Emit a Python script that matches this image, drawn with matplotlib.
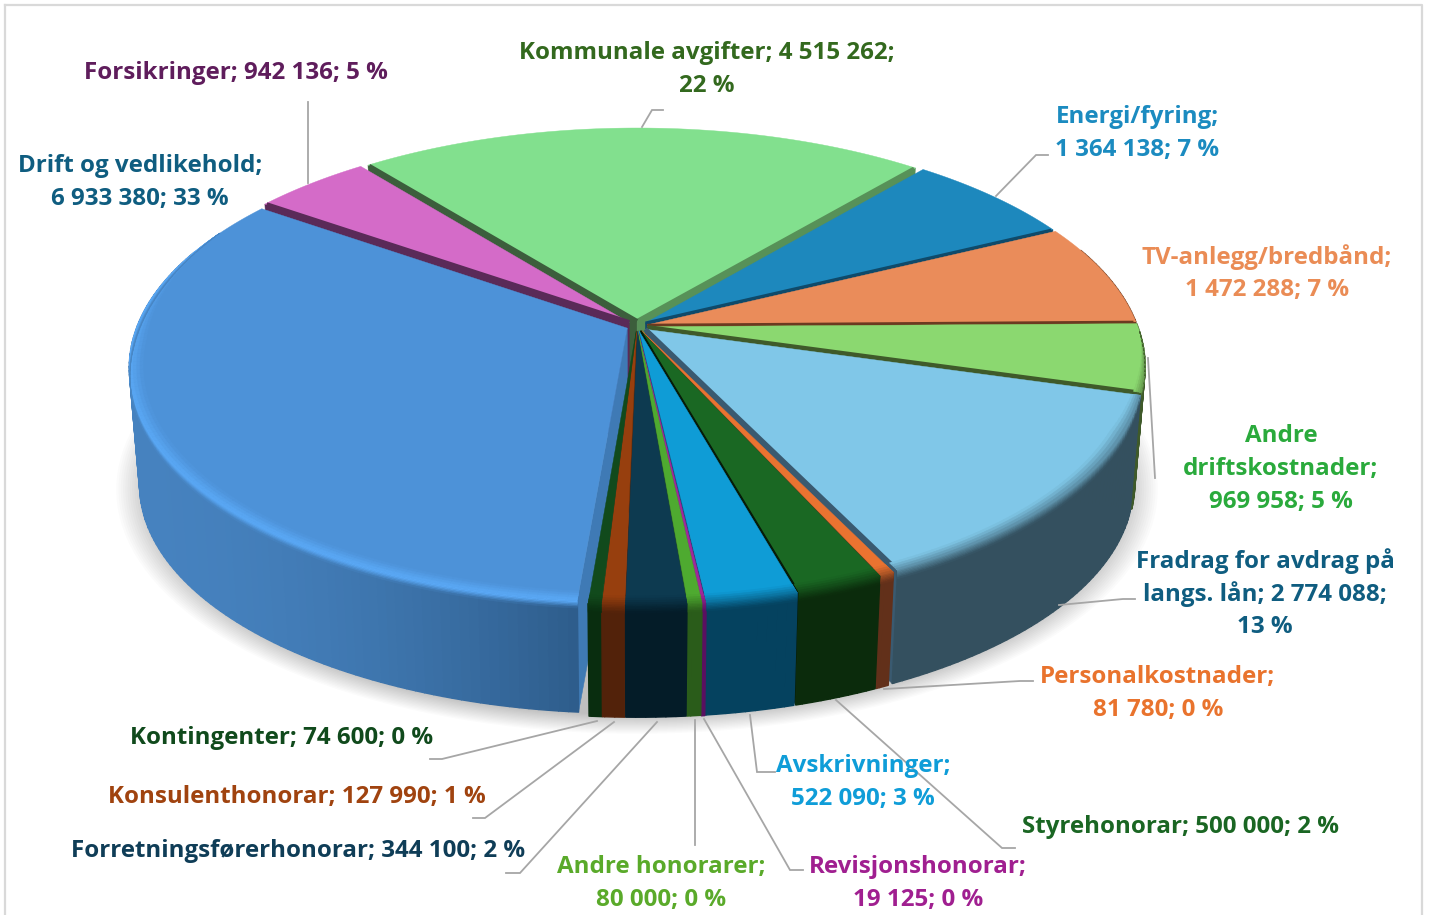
import numpy as np
import matplotlib
matplotlib.use("Agg")
import matplotlib.pyplot as plt
from matplotlib.collections import PolyCollection
from matplotlib.colors import to_rgb
from matplotlib.patches import Polygon

# ---------- data ----------
names = ["Kommunale avgifter", "Energi/fyring", "TV-anlegg/bredbånd", "Andre\ndriftskostnader",
         "Fradrag for avdrag på\nlangs. lån", "Personalkostnader", "Styrehonorar", "Avskrivninger",
         "Revisjonshonorar", "Andre honorarer", "Forretningsførerhonorar", "Konsulenthonorar",
         "Kontingenter", "Drift og vedlikehold", "Forsikringer"]
values = [4515262, 1364138, 1472288, 969958, 2774088, 81780, 500000, 522090,
          19125, 80000, 344100, 127990, 74600, 6933380, 942136]
top_colors = ["#82e08e", "#1d88bd", "#ea8c5a", "#8bd870", "#80c7e8", "#ea7330", "#1a6823", "#0f9cd6",
              "#a0289a", "#4eaa30", "#0d3a50", "#973f0e", "#114a1c", "#4d92d8", "#d46bc8"]
wall_colors = ["#3c5e3c", "#0f4a6a", "#6b3a20", "#3f5a2a", "#34505f", "#62301a", "#0b2b0c", "#05425f",
               "#5a1060", "#2a5c1a", "#041c28", "#52220a", "#092d0f", "#3f74aa", "#5a2a58"]
end_face_colors = ["#579158", "#0f4a6a", "#6b3a20", "#3f5a2a", "#3a5a70", "#62301a", "#061a08", "#05425f",
                   "#5a1060", "#2a5c1a", "#041c28", "#52220a", "#092d0f", "#3f74aa", "#5a2a58"]
start_face_colors = ["#3c5e3c", "#0f4a6a", "#6b3a20", "#3f5a2a", "#34505f", "#62301a", "#0b2b0c", "#05425f",
                     "#5a1060", "#2a5c1a", "#041c28", "#52220a", "#092d0f", "#3f7ab5", "#5a2a58"]
label_colors = ["#33691e", "#1b8bc0", "#ea8c55", "#2aaa3c", "#0f5d80", "#e9732d", "#1a6623", "#0f9dd8",
                "#a01f90", "#5aaa2a", "#0f3d57", "#a0430f", "#104a1c", "#0f5d80", "#5f1d5c"]
# drawn width of the dark band along the end / start edge of each slice
end_band = [3.0, 2.0, 1.6, 2.4, 3.5, 0, 1.0, 0, 0, 0, 0, 0, 0, 0, 0]
start_band = [3.0, 0, 0, 0, 0, 0, 0, 0, 0, 0, 0, 0, 0, 0, 3.6]
# how the label wraps: 0 one line, 1 break after name, 2 break before percent
label_wrap = [2, 1, 1, 1, 2, 1, 0, 1, 1, 1, 0, 0, 0, 1, 0]
label_x = [707, 1137, 1267, 1281, 1265, 1158, 1180, 863, 918, 661, 298, 297, 282, 140, 236]
label_y = [53, 117, 257, 436, 561, 677, 827, 766, 867, 867, 851, 797, 738, 166, 73]
leaders = [[(663, 110), (652, 110), (642, 127)],
           [(1048, 155), (1036, 155), (996, 196)],
           [(1155, 478), (1148, 358)],
           [(1135, 599), (1123, 599), (1059, 605)],
           [(1033, 681), (1020, 681), (884, 689)],
           [(1015, 848), (1002, 848), (836, 700)],
           [(775, 772), (757, 772), (750, 715)],
           [(803, 870), (790, 870), (704, 719)],
           [(695, 845), (695, 720)],
           [(506, 873), (520, 873), (657, 722)],
           [(473, 818), (485, 818), (614, 722)],
           [(430, 759), (442, 759), (597, 721)],
           [(308, 102), (308, 183)]]

# ---------- projection ----------
START = -38.5
K = 0.166
CX = 637
TOP = dict(R=490, B=226.6, cy=326)
BOT = dict(R=480, B=222, cy=444)
EXPL = 0.022


def proj(x, y, p):
    w = 1 + K * y
    return CX + p["R"] * x / w, p["cy"] - p["B"] * y / w


def mix(a, b, t):
    a, b = np.array(to_rgb(a)), np.array(to_rgb(b))
    return tuple(a + (b - a) * t)


fig = plt.figure(figsize=(14.31, 9.15), dpi=100)
ax = fig.add_axes([0, 0, 1, 1])
ax.set_xlim(0, 1431)
ax.set_ylim(915, 0)
ax.axis("off")

# frame
ax.plot([5, 5], [915, 5], color="#d9d9d9", lw=1.6, zorder=1)
ax.plot([5, 1422, 1422], [5, 5, 915], color="#d9d9d9", lw=1.6, zorder=1)

# shadow
circ = np.radians(np.arange(0, 361, 2))
for s in np.linspace(1.07, 1.0, 16):
    px, py = proj(np.sin(circ), np.cos(circ), dict(R=BOT["R"] * s, B=BOT["B"] * s, cy=BOT["cy"] + 5))
    ax.add_patch(Polygon(np.c_[px, py], closed=True, fc="black", ec="none", alpha=0.017, zorder=2))

total = sum(values)
spans = [v / total * 360 for v in values]
starts = START + np.concatenate([[0], np.cumsum(spans)[:-1]])
ends = starts + np.array(spans)
mids = (starts + ends) / 2
offx = EXPL * np.sin(np.radians(mids))
offy = EXPL * np.cos(np.radians(mids))
DRIFT = names.index("Drift og vedlikehold")


def rim(i, th, r, t):
    a = np.radians(th)
    x = r * np.sin(a) + offx[i]
    y = r * np.cos(a) + offy[i]
    x0, y0 = proj(x, y, TOP)
    x1, y1 = proj(x, y, BOT)
    return x0 + (x1 - x0) * t, y0 + (y1 - y0) * t


def wall_col(i, x):
    if i == DRIFT:
        f = np.clip((x - 140) / 440, 0, 1) ** 1.8
        return mix("#4682bf", "#2e5d8c", f)
    return to_rgb(wall_colors[i])


# walls and radial faces, back to front
for rank, i in enumerate(np.argsort(-np.cos(np.radians(mids)))):
    i = int(i)
    z = 3 + 0.01 * rank
    for th, col, vis in ((starts[i], start_face_colors[i], np.sin(np.radians(starts[i])) < 0),
                         (ends[i], end_face_colors[i], np.sin(np.radians(ends[i])) > 0)):
        if vis:
            poly = [rim(i, th, 1, 0), rim(i, th, 1, 1), rim(i, th, 0, 1), rim(i, th, 0, 0)]
            ax.add_patch(Polygon(poly, closed=True, fc=col, ec=col, lw=0.4, zorder=z))
    ths = np.arange(starts[i], ends[i] + 0.01, min(1.0, spans[i]))
    ths = np.append(ths[ths < ends[i]], ends[i])
    polys, cols = [], []
    for a, b in zip(ths[:-1], ths[1:]):
        if np.cos(np.radians((a + b) / 2)) > 0.35:
            continue
        polys.append([rim(i, a, 1, 0), rim(i, b, 1, 0), rim(i, b, 1, 1), rim(i, a, 1, 1)])
        cols.append(wall_col(i, rim(i, a, 1, 1)[0]))
    if polys:
        ax.add_collection(PolyCollection(polys, facecolors=cols, edgecolors=cols, linewidths=1.0, zorder=z))

# top faces
for i in range(len(values)):
    ths = np.linspace(starts[i], ends[i], max(3, int(spans[i] * 2)))
    pts = [rim(i, 0, 0, 0)] + [rim(i, t, 1, 0) for t in ths]
    ax.add_patch(Polygon(pts, closed=True, fc=top_colors[i], ec=top_colors[i], lw=0.3, zorder=5))

# dark bands along the slice edges
for i in range(len(values)):
    for th, w, col in ((ends[i], end_band[i], end_face_colors[i]), (starts[i], start_band[i], start_face_colors[i])):
        if w > 0:
            p0, p1 = rim(i, th, 0, 0), rim(i, th, 0.995, 0)
            ax.plot([p0[0], p1[0]], [p0[1], p1[1]], color=col, lw=w, zorder=5.5, solid_capstyle="butt")

# bevel between top face and wall
for i in range(len(values)):
    ths = np.arange(starts[i], ends[i] + 0.01, min(1.0, spans[i]))
    ths = np.append(ths[ths < ends[i]], ends[i])
    polys, cols = [], []
    top = top_colors[i]
    for a, b in zip(ths[:-1], ths[1:]):
        c = np.cos(np.radians((a + b) / 2))
        if i == DRIFT:
            f = float(np.clip((0.45 - c) / 0.5, 0, 1))
        else:
            f = float(np.clip((-0.03 - c) / 0.4, 0, 1))
        if f <= 0:
            continue
        wc = wall_col(i, rim(i, a, 1, 1)[0])
        hi = "#5aa8f5"
        levels = []
        rr = np.linspace(1 - 0.027 * f, 1, 5)
        for n in range(4):
            levels.append(((rr[n], 0), (rr[n + 1], 0), (n + 0.5) / 4))
        tt = np.linspace(0, 0.075 * f, 7)
        for n in range(6):
            levels.append(((1, tt[n]), (1, tt[n + 1]), 1 + (n + 0.5) / 6))
        for (r0, t0), (r1, t1), s in levels:
            polys.append([rim(i, a, r0, t0), rim(i, b, r0, t0), rim(i, b, r1, t1), rim(i, a, r1, t1)])
            if i == DRIFT:
                col = mix(top, hi, s) if s <= 1 else mix(hi, wc, np.clip((s - 1.3) / 0.7, 0, 1))
            else:
                col = mix(top, wc, s / 2)
            cols.append(col)
    if polys:
        ax.add_collection(PolyCollection(polys, facecolors=cols, edgecolors=cols, linewidths=0.4, zorder=6))

# leader lines
for seg in leaders:
    xs, ys = zip(*seg)
    ax.plot(xs, ys, color="#a6a6a6", lw=1.3, zorder=7, solid_joinstyle="miter")


# labels
def fmt(v):
    return f"{v:,}".replace(",", " ")


for i, name in enumerate(names):
    pct = f"{round(values[i] / total * 100)} %"
    val = fmt(values[i])
    if label_wrap[i] == 0:
        txt = f"{name}; {val}; {pct}"
    elif label_wrap[i] == 1:
        txt = f"{name};\n{val}; {pct}"
    else:
        txt = f"{name}; {val};\n{pct}"
    for n, line in enumerate(txt.split("\n")):
        ax.text(label_x[i], label_y[i] + n * 33, line, ha="center", va="center", color=label_colors[i],
                fontsize=17.35, fontweight="bold", family="Open Sans", zorder=8)

fig.savefig("out.png", dpi=100, facecolor="white")
